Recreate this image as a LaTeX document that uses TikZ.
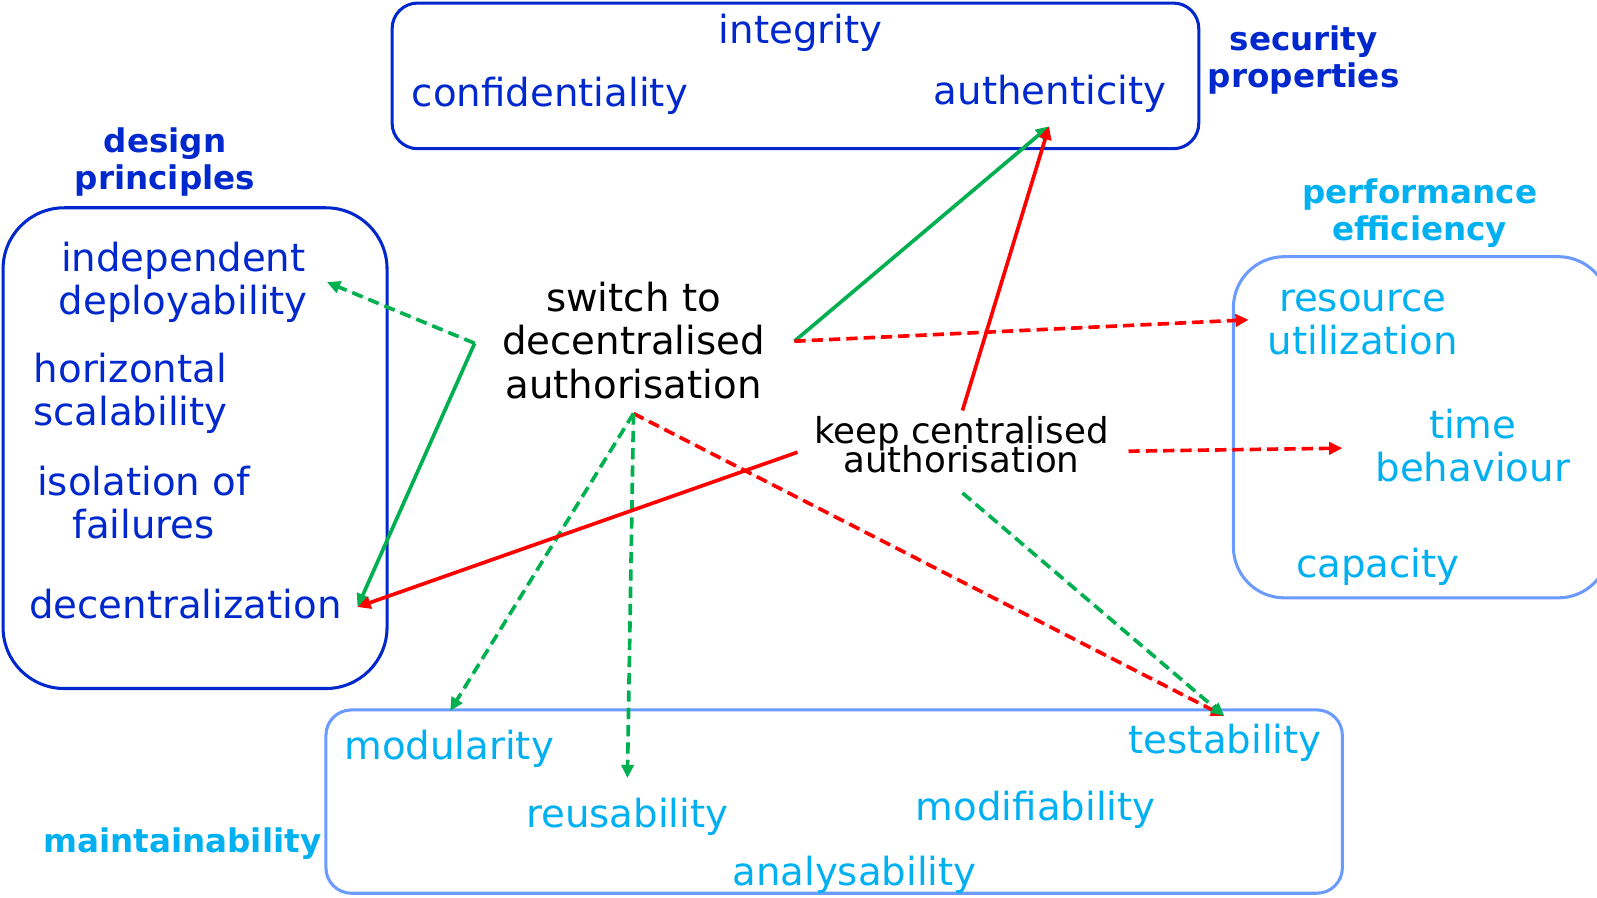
\documentclass[tikz,border=0pt]{standalone}
\usepackage{fontspec}
\setmainfont{DejaVu Sans}
\usetikzlibrary{arrows.meta}
\definecolor{dblue}{RGB}{0,40,204}
\definecolor{cyantext}{RGB}{0,176,240}
\definecolor{lblue}{RGB}{107,155,255}
\definecolor{mygreen}{RGB}{0,176,80}
\definecolor{myred}{RGB}{255,0,0}
\begin{document}
\begin{tikzpicture}[x=1pt,y=-1pt,
  txt/.style={inner sep=0pt, anchor=base, align=center, font=\fontsize{38}{42.5}\selectfont},
  dtxt/.style={txt, text=dblue},
  ctxt/.style={txt, text=cyantext},
  ktxt/.style={txt, text=black},
  lbl/.style={inner sep=0pt, anchor=base, align=center, font=\fontsize{32}{36}\selectfont\bfseries},
  dbox/.style={draw=dblue, line width=3pt},
  cbox/.style={draw=lblue, line width=3pt},
  arr/.style={line width=3.6pt, -{Triangle[length=13pt,width=12pt]}},
  dsh/.style={dash pattern=on 11pt off 6pt},
  gs/.style={arr, draw=mygreen, fill=mygreen},
  gd/.style={arr, dsh, draw=mygreen, fill=mygreen},
  rs/.style={arr, draw=myred, fill=myred},
  rd/.style={arr, dsh, draw=myred, fill=myred}]
\clip (0,0) rectangle (1568,881);
% boxes
\draw[dbox, rounded corners=25pt] (385,3) rectangle (1177,146);
\draw[dbox, rounded corners=60pt] (3,204) rectangle (380,676);
\draw[cbox, rounded corners=50pt] (1211,252) rectangle (1580,587);
\draw[cbox, rounded corners=25pt] (320,697) rectangle (1318,877);
% security
\node[dtxt] (integ) at (786,42.5) {integrity};
\node[dtxt] (conf) at (540,105) {confidentiality};
\node[dtxt] (auth) at (1031,103) {authenticity};
\node[lbl, text=dblue] (secl) at (1280,86) {security\\properties};
% design
\node[lbl, text=dblue] (desl) at (162,186) {design\\principles};
\node[dtxt] (indep) at (180,309) {independent\\deployability};
\node[dtxt] (horiz) at (128,418) {horizontal\\scalability};
\node[dtxt] (isol) at (141,529) {isolation of\\failures};
\node[dtxt] (decz) at (182,607) {decentralization};
% performance
\node[lbl, text=cyantext] (perfl) at (1394,236) {performance\\efficiency};
\node[ctxt] (resu) at (1338,348) {resource\\utilization};
\node[ctxt] (timeb) at (1446,473) {time\\behaviour};
\node[ctxt] (capa) at (1353,567) {capacity};
% maintainability
\node[lbl, text=cyantext] (maintl) at (179,837) {maintainability};
\node[ctxt] (modu) at (441,746) {modularity};
\node[ctxt] (reus) at (616,812) {reusability};
\node[ctxt] (modi) at (1017,806) {modifiability};
\node[ctxt] (test) at (1203,740) {testability};
\node[ctxt] (anal) at (839,869) {analysability};
% decisions
\node[ktxt] (switch) at (622,391) {switch to\\decentralised\\authorisation};
\node[inner sep=0pt, anchor=base, align=center, font=\fontsize{35}{29}\selectfont] (keep) at (944,464) {keep centralised\\[-6pt]authorisation};
% connector points
\coordinate (sR) at (780,335);
\coordinate (sL) at (466,337);
\coordinate (sB) at (622,406);
\coordinate (kT) at (945,403);
\coordinate (kL) at (783,444);
\coordinate (kR) at (1108,443);
\coordinate (kB) at (945,484);
\coordinate (authT) at (1030,124);
\coordinate (indepT) at (321,277);
\coordinate (deczT) at (351,596);
\coordinate (resuT) at (1226,314);
\coordinate (timeT) at (1318,440);
\coordinate (modT) at (442,698);
\coordinate (reuT) at (616,764);
\coordinate (testT) at (1202,703);
% connectors
\draw[gs] (sR) -- (authT);
\draw[gd] (sL) -- (indepT);
\draw[gs] (sL) -- (deczT);
\draw[rd] (sR) -- (resuT);
\draw[rd] (sB) -- (testT);
\draw[gd] (sB) -- (modT);
\draw[gd] (sB) -- (reuT);
\draw[rs] (kT) -- (authT);
\draw[rs] (kL) -- (deczT);
\draw[rd] (kR) -- (timeT);
\draw[gd] (kB) -- (testT);
\end{tikzpicture}
\end{document}
